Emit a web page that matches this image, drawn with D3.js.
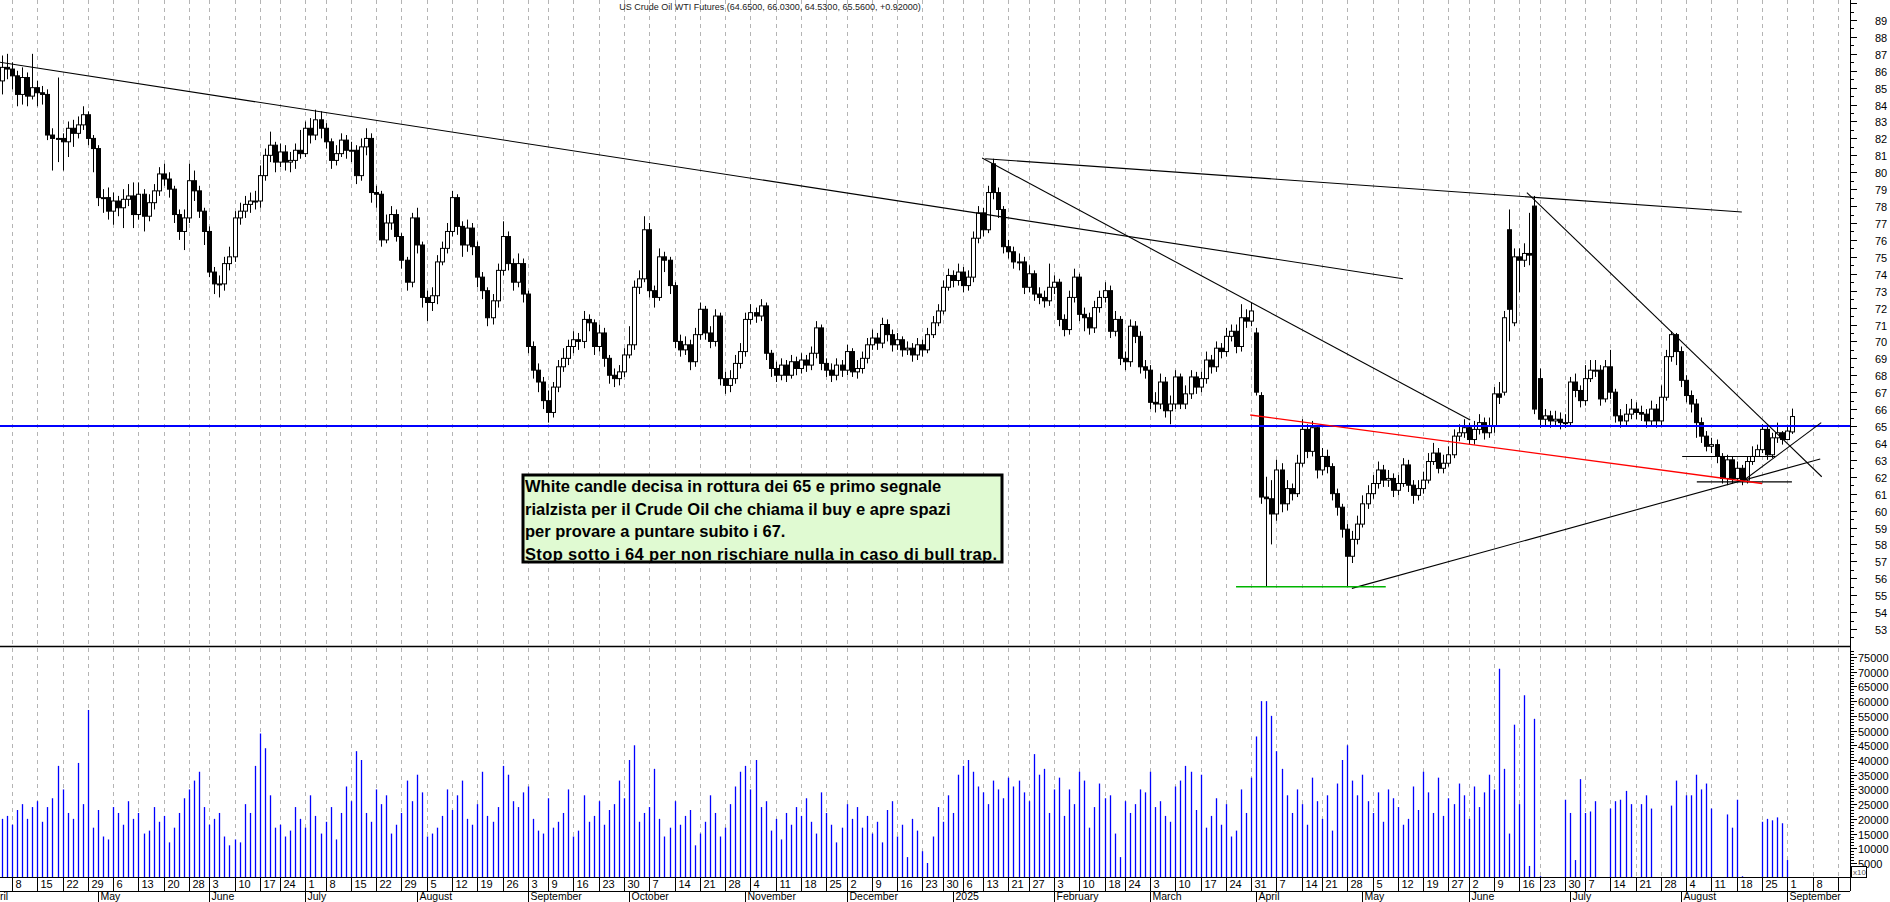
<!DOCTYPE html>
<html><head><meta charset="utf-8">
<script src="https://cdn.jsdelivr.net/npm/d3@7/dist/d3.min.js"></script>
<style>body{margin:0;background:#fff;overflow:hidden}svg{display:block}text{font-family:"Liberation Sans",Arial,sans-serif}</style>
</head><body><svg id="c" width="1890" height="902"></svg>
<script>
const title = "US Crude Oil WTI Futures  (64.6500, 66.0300, 64.5300, 65.5600, +0.92000)";
const startDate = "2024-04-03";
const holidays = ["2024-05-27","2024-06-19","2024-07-04","2024-09-02","2024-11-28","2024-12-25","2025-01-01","2025-01-09","2025-01-20","2025-02-17","2025-04-18","2025-05-26","2025-06-19","2025-07-04"];
const monthNames = ["January","February","March","April","May","June","July","August","September","October","November","December"];
const close = [
85.4,86.2,86.1,85.7,84.6,85.6,84.5,85.0,84.7,84.6,
82.2,82.0,82.0,81.8,82.6,82.3,82.8,83.4,82.0,81.4,
78.5,78.5,77.7,78.3,77.9,78.4,78.6,77.5,78.7,77.4,
78.2,78.9,79.9,79.6,79.0,77.5,76.5,77.3,79.5,78.9,
77.7,76.5,74.1,73.4,73.4,74.6,75.0,77.3,77.7,78.1,
78.3,78.3,79.8,81.0,81.6,80.6,81.2,80.6,80.7,81.3,
81.1,82.6,82.2,83.1,82.6,81.8,80.7,81.1,81.9,81.3,
81.3,79.8,81.5,82.0,78.8,78.7,76.0,77.0,77.5,76.2,
74.8,73.5,77.3,75.7,72.6,72.3,72.7,74.7,75.5,76.5,
78.5,76.8,75.7,76.7,75.6,73.8,73.0,71.4,72.4,74.2,
76.2,74.6,73.5,74.6,72.8,69.7,68.3,67.6,66.5,65.8,
67.3,68.5,69.0,69.7,70.1,70.0,71.3,71.1,69.7,70.5,
69.0,68.0,67.8,68.2,69.2,69.8,73.2,73.7,76.6,73.0,
72.6,75.0,74.8,73.3,70.0,69.5,69.8,68.8,70.4,71.9,
70.5,70.0,71.5,67.8,67.4,67.8,68.7,69.4,71.3,71.7,
71.5,72.1,69.3,68.4,68.0,68.6,68.0,68.8,68.4,68.9,
68.6,69.3,70.8,68.7,68.3,68.0,68.6,68.3,69.4,68.2,
68.4,69.0,69.8,70.2,69.9,71.0,70.4,69.8,70.1,69.5,
69.6,69.2,69.8,69.5,70.4,71.1,71.8,73.2,73.9,73.6,
74.1,73.3,73.8,76.1,77.6,76.6,78.8,78.8,77.8,75.6,
75.3,74.7,74.7,73.2,74.0,72.8,72.6,72.4,73.2,73.5,
71.3,70.7,72.6,73.8,71.6,71.4,70.8,72.0,72.6,73.0,
70.6,71.3,69.0,68.8,70.9,70.3,68.5,68.3,66.4,66.3,
67.6,65.9,66.3,67.9,66.3,66.9,67.9,67.3,67.8,68.9,
68.5,69.6,69.4,70.3,70.6,69.7,71.4,71.2,71.8,67.0,
60.8,60.7,59.8,62.4,60.4,61.3,61.0,62.8,64.8,63.5,
64.9,62.4,63.2,62.6,61.0,60.2,58.9,57.3,58.3,59.2,
60.4,61.0,61.6,62.4,61.8,61.9,61.2,61.6,62.7,61.5,
60.9,61.3,61.8,62.9,63.4,62.5,62.8,63.3,64.4,64.6,
64.9,64.2,64.8,65.2,64.6,65.0,66.9,66.7,71.4,71.9,
75.0,74.8,75.2,75.1,66.0,65.4,65.6,65.3,65.4,65.2,
65.2,67.6,67.1,66.5,67.8,68.3,68.3,66.6,68.5,67.0,
65.6,65.3,65.7,66.0,65.8,65.7,65.3,66.0,65.3,66.7,
69.1,70.4,69.4,67.7,66.8,66.3,65.2,64.4,63.8,63.9,
63.2,61.9,63.0,61.9,62.5,61.8,62.9,63.2,63.6,64.8,
63.3,64.3,64.6,64.2,64.7,65.56];
const high = [
86.6,86.9,87.0,86.5,86.0,86.2,85.9,87.0,85.4,85.1,
84.9,82.6,85.6,82.3,83.0,83.1,83.3,83.9,83.6,82.2,
81.6,79.0,79.1,78.8,78.6,79.0,79.3,79.4,79.4,79.0,
78.7,79.3,80.3,80.5,80.0,79.2,77.8,77.8,80.5,80.1,
79.2,77.9,76.8,74.4,73.9,75.0,75.6,77.7,78.2,78.6,
78.8,78.9,80.4,81.4,82.4,81.8,81.7,81.6,81.2,81.7,
82.5,83.0,83.2,83.7,83.6,82.9,82.0,81.6,82.3,82.2,
81.8,81.6,82.0,82.6,82.3,79.2,78.9,77.5,78.0,77.8,
76.4,75.0,77.6,77.9,75.9,73.0,73.2,75.1,75.9,77.0,
78.9,78.7,77.1,77.2,77.0,75.9,74.1,73.2,72.8,74.6,
77.1,76.5,74.9,75.2,74.9,73.0,70.0,68.7,67.9,67.1,
67.6,68.9,69.6,70.1,70.6,70.5,71.8,71.6,71.3,71.0,
70.8,69.2,68.4,68.6,69.6,70.9,73.6,74.2,77.4,77.0,
73.3,75.5,75.3,75.0,73.5,70.4,70.3,70.1,70.8,72.3,
72.1,70.9,71.9,71.7,68.2,68.3,69.2,69.9,71.7,72.2,
72.0,72.5,72.3,69.5,68.8,69.0,68.9,69.2,69.1,69.3,
69.2,69.7,71.2,71.0,69.0,68.7,69.0,68.9,69.8,69.6,
68.9,69.4,70.2,70.7,70.5,71.4,71.3,70.7,70.5,70.3,
70.0,69.9,70.2,70.1,70.8,71.5,72.2,73.6,74.3,74.2,
74.6,74.4,74.2,76.5,78.0,77.9,79.2,80.8,79.1,78.0,
76.0,75.6,75.2,75.0,74.5,74.2,73.2,73.0,74.6,73.9,
73.7,71.6,73.0,74.3,74.0,72.0,71.7,72.4,73.0,73.5,
73.3,71.8,71.5,69.4,71.3,71.2,70.6,68.9,68.6,67.0,
68.1,67.9,66.8,68.3,68.1,67.4,68.3,68.2,68.2,69.4,
69.2,70.0,69.9,70.8,71.0,71.0,72.2,71.9,72.3,70.8,
67.0,62.0,61.8,63.0,62.8,61.8,61.6,63.3,65.4,65.1,
65.3,65.0,63.7,63.6,62.8,61.3,60.4,59.2,58.8,59.7,
60.9,61.5,62.1,62.9,62.7,62.4,62.2,62.1,63.1,63.0,
61.8,61.8,62.3,63.4,64.0,63.7,63.3,63.8,64.8,65.1,
65.4,65.2,65.3,65.7,65.5,65.5,67.3,67.6,71.8,77.8,
75.5,75.5,75.8,77.6,78.6,68.4,66.0,65.9,65.9,65.8,
65.7,67.9,68.1,67.4,68.6,68.9,68.9,68.6,68.9,69.5,
67.2,66.0,66.3,66.6,66.4,66.2,66.0,66.5,66.3,67.4,
69.5,70.6,70.5,69.7,68.0,67.1,66.6,65.5,64.7,64.3,
64.2,63.4,63.3,63.2,62.9,62.7,63.2,63.8,63.9,65.1,
65.0,64.6,65.2,64.7,65.0,66.03];
const low = [
84.7,84.6,85.5,84.9,83.9,84.0,83.9,84.3,83.9,84.0,
81.9,80.1,80.6,80.1,80.9,81.5,82.0,82.5,81.6,80.0,
78.0,77.6,77.2,76.9,77.4,76.7,78.0,76.7,77.2,76.5,
77.1,77.8,78.6,79.2,78.5,77.0,76.0,75.4,77.0,78.3,
77.3,75.7,73.8,72.8,72.6,73.0,74.2,74.7,76.9,77.3,
77.6,77.8,77.9,79.5,80.6,80.0,80.3,80.1,80.0,80.2,
80.8,80.9,81.7,81.9,82.0,81.4,80.2,80.4,80.9,80.8,
80.6,79.3,79.5,81.0,78.2,77.9,75.6,75.8,76.6,75.9,
74.3,73.0,73.2,75.2,72.0,71.2,71.8,72.2,74.5,75.2,
76.2,76.3,75.0,75.3,75.1,73.2,72.5,70.9,71.0,72.0,
73.9,74.2,73.0,73.2,72.3,69.3,67.8,67.0,66.0,65.2,
65.5,67.0,68.2,68.6,69.3,69.5,69.6,70.6,69.2,69.4,
68.5,67.5,67.3,67.4,67.9,69.0,69.5,72.8,73.5,72.6,
72.0,72.4,74.1,72.8,69.6,69.1,69.2,68.3,68.5,70.1,
70.1,69.6,69.7,67.4,66.9,67.0,67.5,68.4,69.1,71.0,
71.1,71.2,68.9,67.9,67.6,67.7,67.6,67.8,68.0,68.1,
68.2,68.3,69.0,68.3,67.9,67.6,67.7,67.9,68.0,67.9,
67.8,68.1,68.7,69.5,69.5,69.6,70.0,69.4,69.5,69.1,
69.2,68.8,68.9,69.1,69.3,70.2,70.9,71.6,73.0,73.2,
73.3,72.9,73.0,73.5,75.8,76.2,76.4,78.4,77.3,75.2,
74.9,74.3,74.2,72.8,72.9,72.4,72.2,72.0,72.1,72.8,
70.9,70.3,70.4,72.3,71.2,70.6,70.4,70.5,71.7,72.3,
70.2,70.3,68.6,68.3,68.5,69.9,68.1,67.8,66.0,65.8,
66.0,65.5,65.1,66.0,66.0,66.0,66.6,66.9,67.0,67.5,
68.1,68.2,69.0,69.1,70.0,69.3,69.4,70.8,70.9,66.8,
60.4,55.5,58.0,59.4,59.9,60.0,60.6,60.8,62.6,63.1,
63.2,61.9,62.1,62.2,60.6,59.7,58.4,55.5,56.9,58.0,
59.0,60.1,60.7,61.3,61.4,61.4,60.8,60.9,61.4,61.1,
60.4,60.6,61.0,61.6,62.7,62.2,62.2,62.6,63.1,64.1,
64.3,63.9,63.9,64.5,64.2,64.3,64.6,66.3,66.8,70.0,
70.9,72.9,74.4,74.5,65.7,64.9,65.0,64.9,65.0,64.8,
64.9,65.0,66.7,66.1,66.2,67.6,67.9,66.2,66.4,66.6,
65.2,64.9,65.0,65.4,65.4,65.3,64.9,65.0,64.9,65.0,
66.5,68.8,68.6,67.3,66.4,65.8,64.3,64.0,63.5,63.4,
62.8,61.6,61.5,61.6,61.7,61.5,61.6,62.7,63.2,63.4,
63.0,63.1,64.0,63.9,64.4,64.53];
const openGaps = {0:85.8,197:80.5,249:70.5,250:66.8,298:67.0,299:76.6,300:71.1,304:78.0,305:67.8,355:64.65};
const volume = [
22,20,21,18,23,25,20,24,26,19,
24,27,38,30,22,20,39,25,57,17,
23,14,13,24,22,18,26,20,22,15,
16,24,19,21,12,17,22,27,30,33,
36,24,18,20,22,14,11,13,12,25,
22,38,49,44,28,17,18,14,16,24,
20,17,28,21,15,19,24,13,22,31,
26,43,40,22,19,30,25,28,15,18,
22,33,26,35,29,14,15,17,21,30,
23,28,33,20,18,25,36,21,19,24,
38,35,26,24,29,31,20,16,15,27,
17,19,22,30,14,16,28,19,21,26,
18,23,25,33,27,40,45,19,22,24,
37,20,14,17,26,18,21,23,11,15,
19,28,22,14,17,25,31,36,38,30,
40,24,26,16,20,13,22,18,24,21,
27,19,15,29,22,18,12,17,25,20,
24,17,21,15,19,12,23,26,14,18,
7,20,16,9,5,14,24,19,28,22,
35,38,40,36,31,29,25,33,30,27,
34,31,33,29,26,42,35,37,22,30,
34,21,30,25,36,33,17,24,32,27,
28,15,7,26,22,25,30,29,36,24,
26,21,19,31,33,38,36,23,35,17,
21,27,18,25,14,16,30,22,34,48,
60,60,55,43,37,28,22,30,25,18,
34,26,20,28,16,32,40,45,33,28,
35,26,22,29,19,30,27,24,18,20,
31,23,36,29,22,34,21,27,25,32,
28,20,31,24,29,35,30,71,37,15,
52,25,62,4,54,0.5,0,0,0,0,
26.5,22,6,33.5,22,22.5,26,0,0,23.5,
26,26.5,29.5,25,0,25,28,23.5,0,0,
0,24.5,33,0,28,28,35,30,32,23.5,
0,0,21.5,17,26.5,0.5,0,0,0,19,
20,19.5,20.5,18.5,6,0];
// annotation lines: [startIndex, startPrice, endIndex, endPrice]
const blackLines = [[0.6,86.5,278.0,73.7],[195.4,80.8,345.0,77.65],[194.8,80.84,291.3,65.35],[302.5,78.8,360.8,62.0],[267.9,55.4,360.5,63.05],[345.2,61.75,360.7,65.2],[333.2,63.2,351.6,63.2],[336.1,61.7,354.9,61.7]];
const redLine = [247.8,65.65,349.0,61.6];
const greenLine = [245.0,55.5,274.6,55.5];
const supportLevel = 65.0;
const noteLines = ["White candle decisa in rottura dei 65 e primo segnale","rialzista per il Crude Oil che chiama il buy e apre spazi","per provare a puntare subito i 67.","Stop sotto i 64 per non rischiare nulla in caso di bull trap."];

// ---- dates (trading days) ----
const hol = new Set(holidays);
const fmt = d3.utcFormat("%Y-%m-%d");
const dates = [];
{ let d = new Date(Date.UTC(2024,3,1)); const end = new Date(Date.UTC(2025,8,30));
  while (d <= end) { const w = d.getUTCDay(); if (w!==0 && w!==6 && !hol.has(fmt(d))) dates.push(new Date(d)); d = new Date(d.getTime()+86400000); } }
const offset = dates.findIndex(d => fmt(d) === startDate);
const di = i => i - offset;
const W = 1850;
const x = d3.scaleLinear().domain([3, 3 + 1826/5.058]).range([12, 1838]);
const y = d3.scaleLinear().domain([53, 89]).range([629, 20]);
const yv = d3.scaleLinear().domain([0, 75]).range([877.7, 657]);

const svg = d3.select("#c");
svg.append("defs").append("clipPath").attr("id","cp").append("rect").attr("x",0).attr("y",0).attr("width",W).attr("height",902);
const g = svg.append("g").attr("clip-path","url(#cp)");

const weekStarts = [], monthStarts = [];
dates.forEach((d,i) => {
  const p = dates[i-1];
  if (!p || d.getUTCDay() < p.getUTCDay() || (d.getTime()-p.getTime())/86400000 >= 7) weekStarts.push(i);
  if (!p || d.getUTCMonth() !== p.getUTCMonth()) monthStarts.push(i);
});
weekStarts.forEach(i => {
  const xx = Math.round(x(di(i))) + 0.5;
  g.append("line").attr("x1",xx).attr("x2",xx).attr("y1",0).attr("y2",877).attr("stroke","#b4b4b4").attr("stroke-dasharray","4,4");
  g.append("line").attr("x1",xx).attr("x2",xx).attr("y1",877).attr("y2",891).attr("stroke","#000");
  if (xx + 14 < W) g.append("text").attr("x",xx+3).attr("y",888).attr("font-size",11).text(dates[i].getUTCDate());
});
monthStarts.forEach(i => {
  const xx = Math.round(x(di(i))) + 0.5, m = dates[i].getUTCMonth();
  g.append("line").attr("x1",xx).attr("x2",xx).attr("y1",891).attr("y2",902).attr("stroke","#000");
  const lbl = m===0 ? String(dates[i].getUTCFullYear()) : monthNames[m];
  const t = g.append("text").attr("x",Math.max(xx+2, xx<0 ? 0 : xx+2)).attr("y",900).attr("font-size",10.5).text(xx<0 ? "ril" : lbl);
});

svg.append("line").attr("x1",0).attr("x2",W).attr("y1",646.5).attr("y2",646.5).attr("stroke","#000").attr("stroke-width",1.5);
svg.append("line").attr("x1",0).attr("x2",W).attr("y1",877.5).attr("y2",877.5).attr("stroke","#000");
svg.append("line").attr("x1",0).attr("x2",W).attr("y1",891.5).attr("y2",891.5).attr("stroke","#000");
svg.append("line").attr("x1",W+0.5).attr("x2",W+0.5).attr("y1",0).attr("y2",891).attr("stroke","#000");

const pa = svg.append("g");
for (let v = 52; v <= 90.01; v += 0.5) {
  const yy = Math.round(y(v))+0.5; if (yy > 645 || yy < 0) continue;
  const major = Math.abs(v-Math.round(v))<1e-6;
  pa.append("line").attr("x1",W).attr("x2",W+(major?7:4)).attr("y1",yy).attr("y2",yy).attr("stroke","#000");
  if (major && v>=53 && v<=89) pa.append("text").attr("x",W+25).attr("y",yy+4).attr("font-size",11).text(v);
}
for (let v = 1; v <= 77; v += 1) {
  const yy = Math.round(yv(v))+0.5; const major = v%5===0;
  pa.append("line").attr("x1",W).attr("x2",W+(major?7:4)).attr("y1",yy).attr("y2",yy).attr("stroke","#000");
  if (major && v<=75) pa.append("text").attr("x",W+8).attr("y",yy+4).attr("font-size",11).text(v*1000);
}
pa.append("rect").attr("x",W+1.5).attr("y",866.5).attr("width",15).attr("height",11).attr("fill","#fff").attr("stroke","#000");
pa.append("text").attr("x",W+3).attr("y",875).attr("font-size",8).attr("fill","#555").text("x10");

svg.append("text").attr("x",770).attr("y",10).attr("text-anchor","middle").attr("font-size",9).attr("fill","#222").text(title);

g.selectAll("line.v").data(volume).join("line").attr("class","v")
  .attr("x1",(d,i)=>Math.round(x(i))+0.5).attr("x2",(d,i)=>Math.round(x(i))+0.5)
  .attr("y1",yv(0)).attr("y2",d=>yv(d)).attr("stroke","#0000ff").attr("stroke-width",1.3);

const candles = close.map((c,i)=>({i,c,o: openGaps[i]!==undefined ? openGaps[i] : close[i-1], h: high[i], l: low[i]}));
const cg = g.append("g");
candles.forEach(d => {
  const xx = Math.round(x(d.i));
  cg.append("line").attr("x1",xx+0.5).attr("x2",xx+0.5).attr("y1",y(d.h)).attr("y2",y(d.l)).attr("stroke","#000");
  const top = y(Math.max(d.o,d.c)), bot = y(Math.min(d.o,d.c));
  cg.append("rect").attr("x",xx-1.5).attr("y",top).attr("width",4).attr("height",Math.max(1,bot-top))
    .attr("fill", d.c>=d.o ? "#fff" : "#000").attr("stroke","#000").attr("stroke-width",1);
});

const seg = (a,col,w) => g.append("line").attr("x1",x(a[0])).attr("y1",y(a[1])).attr("x2",x(a[2])).attr("y2",y(a[3])).attr("stroke",col).attr("stroke-width",w);
g.append("line").attr("x1",0).attr("x2",W).attr("y1",y(supportLevel)).attr("y2",y(supportLevel)).attr("stroke","#0000ff").attr("stroke-width",2);
blackLines.forEach(a=>seg(a,"#000",1.1));
seg(redLine,"#ff0000",1.3);
seg(greenLine,"#00b400",1.5);

svg.append("rect").attr("x",523).attr("y",475).attr("width",479).attr("height",87).attr("fill","#e0fad2").attr("stroke","#000").attr("stroke-width",3);
noteLines.forEach((t,k)=>svg.append("text").attr("x",525).attr("y",492+k*22.5).attr("font-size",16.5).attr("font-weight","bold").attr("textLength", k===3 ? 472 : null).text(t));
</script></body></html>
